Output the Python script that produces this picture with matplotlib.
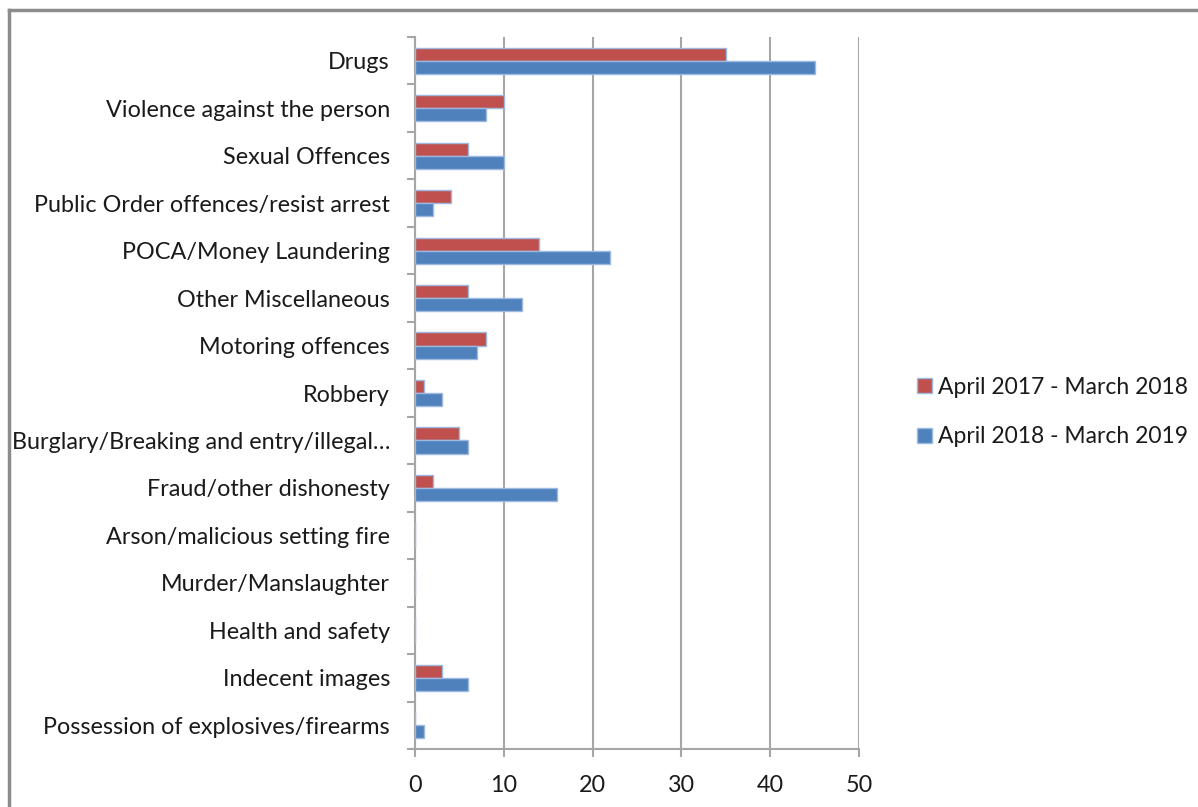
import matplotlib
matplotlib.use("Agg")
import matplotlib.pyplot as plt
from matplotlib.lines import Line2D
from matplotlib.patches import Patch
import numpy as np

plt.rcParams['font.family'] = ['Lato', 'DejaVu Sans']

categories = [
    "Drugs",
    "Violence against the person",
    "Sexual Offences",
    "Public Order offences/resist arrest",
    "POCA/Money Laundering",
    "Other Miscellaneous",
    "Motoring offences",
    "Robbery",
    "Burglary/Breaking and entry/illegal\u2026",
    "Fraud/other dishonesty",
    "Arson/malicious setting fire",
    "Murder/Manslaughter",
    "Health and safety",
    "Indecent images",
    "Possession of explosives/firearms",
]
series_2017 = [35, 10, 6, 4, 14, 6, 8, 1, 5, 2, 0, 0, 0, 3, 0]
series_2018 = [45, 8, 10, 2, 22, 12, 7, 3, 6, 16, 0, 0, 0, 6, 1]
label_2017 = "April 2017 - March 2018"
label_2018 = "April 2018 - March 2019"
xticks = [0, 10, 20, 30, 40, 50]

red = "#C0504D"
blue = "#4F81BD"
edge = "#9DB9E0"
txt = "#1A1A1A"
FS = 16.8

W, H = 1198, 807
fig = plt.figure(figsize=(W / 100, H / 100), dpi=100)
ax = fig.add_axes([415 / W, 1 - 749 / H, (859 - 415) / W, (749 - 37) / H])

n = len(categories)
y = np.arange(n)
h = 0.275
ax.barh(y - h / 2, series_2017, height=h, color=red, edgecolor=edge, linewidth=1.0, zorder=3)
ax.barh(y + h / 2, series_2018, height=h, color=blue, edgecolor=edge, linewidth=1.0, zorder=3)

ax.set_ylim(n - 0.5, -0.5)
ax.set_xlim(0, 50)
ax.set_xticks(xticks)
ax.set_xticklabels([str(t) for t in xticks], fontsize=FS, color=txt)
ax.set_yticks(y)
ax.set_yticklabels(categories, fontsize=FS, color=txt)
ax.set_yticks(np.arange(n + 1) - 0.5, minor=True)
ax.tick_params(axis='y', which='major', length=0, pad=18)
ax.tick_params(axis='y', which='minor', length=6, color="#A6A6A6", width=1.5, direction='out')
ax.tick_params(axis='x', length=6, color="#A6A6A6", width=1.5, direction='out', pad=13)

ax.grid(axis='x', color="#A6A6A6", linewidth=1.5, zorder=0)
ax.set_axisbelow(True)
for s in ['top', 'right']:
    ax.spines[s].set_visible(False)
for s in ['left', 'bottom']:
    ax.spines[s].set_color("#A6A6A6")
    ax.spines[s].set_linewidth(1.5)

handles = [Patch(facecolor=red, edgecolor=edge, label=label_2017),
           Patch(facecolor=blue, edgecolor=edge, label=label_2018)]
fig.legend(handles=handles, loc='center left', bbox_to_anchor=(896 / W, 1 - 412 / H),
           frameon=False, fontsize=16.5, handlelength=0.65, handleheight=0.65,
           handletextpad=0.3, labelspacing=1.25, labelcolor=txt)

# outer chart border
fig.add_artist(Line2D([9 / W, 1.0], [1 - 10 / H, 1 - 10 / H], transform=fig.transFigure,
                      color="#8C8C8C", linewidth=2.5))
fig.add_artist(Line2D([9 / W, 9 / W], [1 - 10 / H, 0.0], transform=fig.transFigure,
                      color="#8C8C8C", linewidth=2.5))

fig.savefig("out.png", dpi=100)
